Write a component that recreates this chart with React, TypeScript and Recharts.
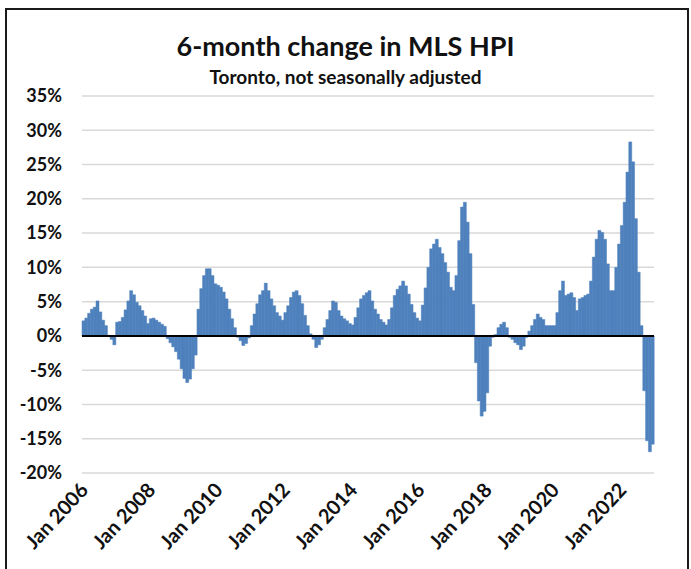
import { Bar, BarChart, CartesianGrid, ReferenceLine, XAxis, YAxis } from 'recharts';

const monthNames = ['Jan', 'Feb', 'Mar', 'Apr', 'May', 'Jun', 'Jul', 'Aug', 'Sep', 'Oct', 'Nov', 'Dec'];
const years = [2006, 2007, 2008, 2009, 2010, 2011, 2012, 2013, 2014, 2015, 2016, 2017, 2018, 2019, 2020, 2021, 2022];

// 6-month % change, one array per year (Jan..Dec)
const v2006 = [2.2, 2.6, 3.3, 3.9, 4.2, 5.1, 3.5, 2.3, 1.5, 0.1, -0.5, -1.3];
const v2007 = [2.0, 2.1, 2.7, 3.8, 5.1, 6.6, 6.0, 4.9, 4.4, 3.7, 2.9, 1.8];
const v2008 = [2.5, 2.6, 2.3, 2.0, 1.7, 1.4, -0.4, -1.0, -1.6, -2.3, -3.4, -4.8];
const v2009 = [-6.2, -6.8, -6.3, -4.8, -2.8, 3.9, 6.9, 8.8, 9.8, 9.8, 8.8, 7.6];
const v2010 = [7.4, 7.1, 6.4, 5.4, 3.9, 2.5, 1.2, -0.2, -0.7, -1.4, -1.1, -0.3];
const v2011 = [1.5, 3.2, 4.7, 6.0, 6.6, 7.7, 6.6, 5.4, 4.4, 3.4, 2.9, 2.3];
const v2012 = [3.4, 4.4, 5.6, 6.4, 6.6, 5.9, 4.7, 3.0, 1.5, 0.3, -0.5, -1.7];
const v2013 = [-1.3, -0.5, 1.2, 2.4, 3.7, 5.1, 4.9, 3.7, 2.9, 2.5, 2.2, 1.8];
const v2014 = [1.6, 2.7, 4.1, 5.4, 5.9, 6.3, 6.6, 5.1, 3.9, 3.2, 2.4, 2.0];
const v2015 = [1.6, 2.4, 4.1, 5.9, 6.8, 7.3, 8.0, 7.3, 6.1, 4.6, 3.4, 2.6];
const v2016 = [2.2, 4.5, 7.0, 10.0, 12.7, 13.4, 14.1, 12.9, 12.0, 10.7, 9.3, 7.1];
const v2017 = [6.6, 8.8, 13.9, 18.8, 19.5, 16.6, 12.0, 4.6, -3.9, -9.5, -11.7, -11.0];
const v2018 = [-8.3, -1.5, -0.2, 0.2, 1.2, 1.7, 2.0, 1.2, -0.2, -0.5, -1.0, -1.3];
const v2019 = [-2.0, -1.5, -0.2, 0.7, 1.5, 2.4, 3.2, 2.7, 2.4, 1.5, 1.5, 1.5];
const v2020 = [1.5, 3.4, 6.6, 8.0, 5.9, 6.1, 6.3, 5.6, 3.7, 5.4, 5.6, 5.9];
const v2021 = [6.1, 8.0, 11.5, 14.1, 15.4, 15.1, 14.1, 10.5, 6.6, 6.6, 10.0, 13.4];
const v2022 = [16.1, 19.5, 23.9, 28.3, 25.4, 17.1, 9.3, 1.5, -8.0, -15.3, -16.9, -15.8];

const yearValues = [v2006, v2007, v2008, v2009, v2010, v2011, v2012, v2013, v2014, v2015, v2016, v2017, v2018, v2019, v2020, v2021, v2022];

const xTickLabels = ['Jan 2006', 'Jan 2008', 'Jan 2010', 'Jan 2012', 'Jan 2014', 'Jan 2016', 'Jan 2018', 'Jan 2020', 'Jan 2022'];
const yTicks = [-20, -15, -10, -5, 0, 5, 10, 15, 20, 25, 30, 35];

const data = years.flatMap((yr, k) =>
  yearValues[k].map((v, m) => ({ month: `${monthNames[m]} ${yr}`, value: v }))
);

const FONT = 'Lato, "Open Sans", sans-serif';

const DateTick = (props: any) => {
  const { x, y, payload } = props;
  const ax = x + 6;
  const ay = y + 10;
  return (
    <text
      x={ax}
      y={ay}
      transform={`rotate(-47, ${ax}, ${ay})`}
      textAnchor="end"
      fontFamily={FONT}
      fontWeight={700}
      fontSize={20}
      fill="#111"
    >
      {payload.value}
    </text>
  );
};

export default function App() {
  return (
    <div style={{ position: 'absolute', left: 0, top: 0, width: 691, height: 569, background: '#fff', overflow: 'hidden' }}>
      <div style={{ position: 'absolute', left: 5, top: 8, width: 680, height: 600, border: '2.5px solid #1a1a1a' }} />
      <div style={{ position: 'absolute', left: 0, top: 29, width: 691, textAlign: 'center', fontFamily: FONT, fontWeight: 700, fontSize: 27, color: '#111' }}>
        6-month change in MLS HPI
      </div>
      <div style={{ position: 'absolute', left: 0, top: 65, width: 691, textAlign: 'center', fontFamily: FONT, fontWeight: 700, fontSize: 19, color: '#111' }}>
        Toronto, not seasonally adjusted
      </div>
      <div style={{ position: 'absolute', left: 0, top: 0 }}>
        <BarChart width={691} height={569} data={data} margin={{ top: 96, right: 37, bottom: 6, left: 8 }} barCategoryGap={0} barGap={0}>
          <CartesianGrid vertical={false} stroke="#d9d9d9" strokeWidth={1.5} />
          <XAxis
            dataKey="month"
            ticks={xTickLabels}
            interval={0}
            tick={<DateTick />}
            axisLine={false}
            tickLine={false}
            height={90}
          />
          <YAxis
            domain={[-20, 35]}
            ticks={yTicks}
            tickFormatter={(v) => `${v}%`}
            width={74}
            axisLine={false}
            tickLine={false}
            tickMargin={14}
            tick={{ fontFamily: FONT, fontWeight: 700, fontSize: 18, fill: '#111' }}
          />
          <Bar dataKey="value" fill="#4F81BD" stroke="#4F81BD" strokeWidth={0.5} isAnimationActive={false} />
          <ReferenceLine y={0} stroke="#000" strokeWidth={2} />
        </BarChart>
      </div>
    </div>
  );
}
